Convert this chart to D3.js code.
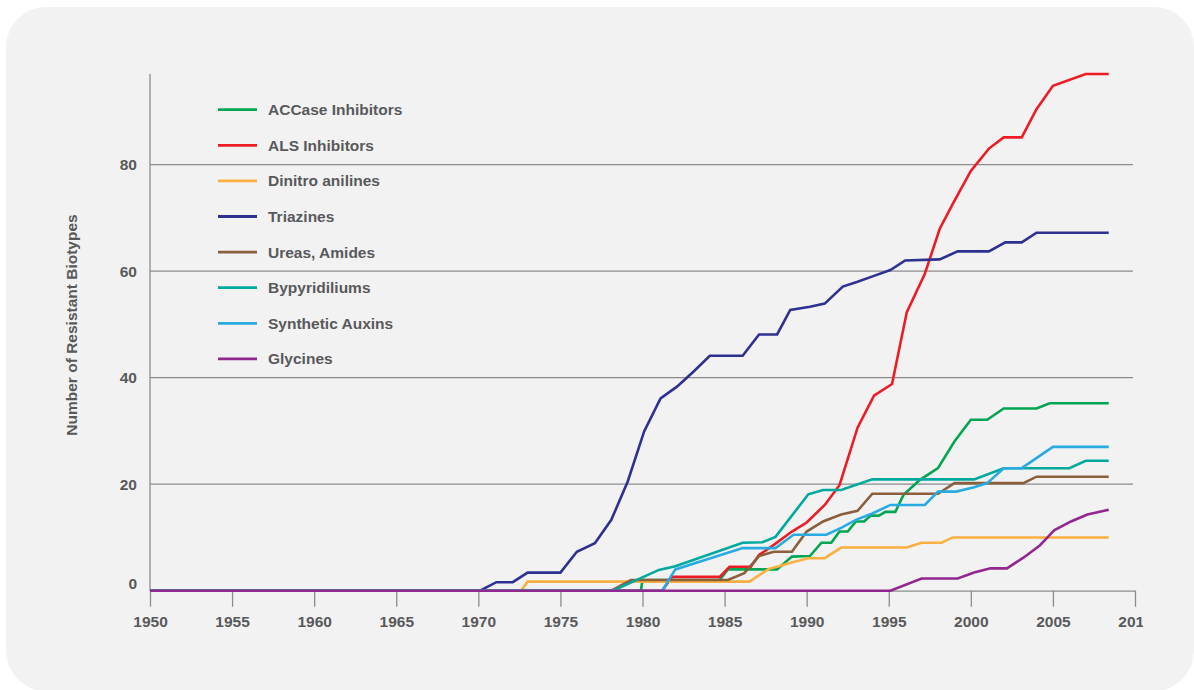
<!DOCTYPE html>
<html>
<head>
<meta charset="utf-8">
<script src="https://cdn.jsdelivr.net/npm/d3@7"></script>
<style>
	body { margin: 0; background: #ffffff; }
	text { font-family: "Liberation Sans", Arial, Helvetica, sans-serif; font-weight: bold; fill: #58595b; }
</style>
</head>
<body>
<div id="chart"></div>
<script>

			//Width and height
			var w = 1194;
			var h = 690;

			//Legend names and colours, in drawing order
			var seriesNames = ["ACCase Inhibitors", "ALS Inhibitors", "Dinitro anilines", "Triazines",
				"Ureas, Amides", "Bypyridiliums", "Synthetic Auxins", "Glycines"];
			var seriesColors = ["#00a651", "#ed1c24", "#fbb040", "#2e3192",
				"#8b5e3c", "#00a99d", "#29abe2", "#92278f"];

			//Break points [year, resistant biotypes]
			var accase = [[1950, 0], [1979.9, 0], [1980.0, 2.0], [1984.7, 2.0], [1985.2, 4.0], [1988.2, 4.0],
				[1989.1, 6.4], [1990.2, 6.5], [1990.9, 9.0], [1991.5, 9.0], [1992.0, 11.1], [1992.5, 11.1],
				[1993.0, 13.0], [1993.5, 13.0], [1993.9, 14.1], [1994.4, 14.1], [1994.8, 14.8], [1995.4, 14.8],
				[1995.9, 18.0], [1996.9, 20.8], [1998.0, 23.0], [1999.0, 28.0], [2000.0, 32.1], [2001.0, 32.1],
				[2002.0, 34.2], [2004.0, 34.2], [2004.8, 35.2], [2008.4, 35.2]];
			var als = [[1950, 0], [1981.2, 0], [1981.8, 2.6], [1984.7, 2.6], [1985.3, 4.5], [1986.6, 4.5],
				[1987.1, 6.7], [1988.0, 8.6], [1989.1, 11.1], [1990.0, 12.8], [1991.1, 16.1], [1992.0, 19.8],
				[1993.1, 30.6], [1994.1, 36.6], [1995.2, 38.8], [1996.1, 52.3], [1997.2, 59.5], [1998.1, 67.9],
				[1998.9, 72.6], [2000.0, 78.8], [2001.1, 83.0], [2002.0, 85.1], [2003.1, 85.1], [2004.0, 90.4],
				[2005.0, 94.8], [2007.0, 97.0], [2008.4, 97.0]];
			var dinitro = [[1950, 0], [1972.6, 0], [1973.0, 1.7], [1986.5, 1.7], [1987.7, 4.1], [1988.3, 4.6],
				[1989.2, 5.4], [1990.1, 6.1], [1991.1, 6.1], [1992.1, 8.1], [1996.1, 8.1], [1997.0, 9.0],
				[1998.2, 9.0], [1998.9, 10.0], [2008.4, 10.0]];
			var triazines = [[1950, 0], [1970.1, 0], [1971.1, 1.6], [1972.1, 1.6], [1973.0, 3.4], [1975.0, 3.4],
				[1976.0, 7.3], [1977.1, 8.9], [1978.1, 13.3], [1979.1, 20.5], [1980.1, 29.9], [1981.1, 36.1],
				[1982.1, 38.3], [1983.1, 41.1], [1984.1, 44.1], [1986.1, 44.1], [1987.1, 48.1], [1988.2, 48.1],
				[1989.0, 52.7], [1990.2, 53.3], [1991.1, 53.9], [1992.2, 57.1], [1993.1, 58.0], [1994.1, 59.1],
				[1995.1, 60.2], [1996.0, 62.0], [1998.1, 62.2], [1999.2, 63.7], [2001.1, 63.7], [2002.1, 65.4],
				[2003.1, 65.4], [2004.0, 67.2], [2008.4, 67.2]];
			var ureas = [[1950, 0], [1978.1, 0], [1979.3, 2.0], [1985.2, 2.0], [1986.2, 3.3], [1987.1, 6.5],
				[1988.0, 7.3], [1989.1, 7.3], [1990.0, 11.1], [1991.0, 13.0], [1992.1, 14.3], [1993.1, 15.0],
				[1994.0, 18.2], [1998.0, 18.2], [1999.0, 20.2], [2003.2, 20.2], [2004.0, 21.4], [2008.4, 21.4]];
			var bypyridiliums = [[1950, 0], [1978.2, 0], [1981.0, 3.9], [1982.0, 4.6], [1986.1, 9.0], [1987.3, 9.1],
				[1988.1, 10.1], [1990.1, 18.1], [1991.0, 18.9], [1992.1, 18.9], [1994.0, 20.9], [2000.2, 20.9],
				[2002.0, 23.0], [2006.0, 23.0], [2007.0, 24.4], [2008.4, 24.4]];
			var auxins = [[1950, 0], [1981.2, 0], [1982.0, 4.0], [1986.1, 8.0], [1988.1, 8.0], [1989.2, 10.5],
				[1991.2, 10.5], [1992.1, 11.8], [1993.0, 13.3], [1994.0, 14.5], [1995.1, 16.1], [1997.2, 16.1],
				[1998.0, 18.6], [1999.1, 18.6], [2000.2, 19.4], [2001.0, 20.2], [2002.0, 23.0], [2003.1, 23.0],
				[2005.0, 27.0], [2008.4, 27.0]];
			var glycines = [[1950, 0], [1995.1, 0], [1997.0, 2.3], [1999.2, 2.3], [2000.2, 3.4], [2001.2, 4.2],
				[2002.2, 4.2], [2003.2, 6.2], [2004.2, 8.5], [2005.1, 11.4], [2006.1, 13.0], [2007.1, 14.3],
				[2008.4, 15.2]];

			var allSeries = [accase, als, dinitro, triazines, ureas, bypyridiliums, auxins, glycines];

			//Tick values
			var xTicks = [1950, 1955, 1960, 1965, 1970, 1975, 1980, 1985, 1990, 1995, 2000, 2005, 2010];
			var yTicks = [0, 20, 40, 60, 80];

			//Scales
			var xScale = d3.scaleLinear()
				.domain([1950, 2010])
				.range([150, 1135]);

			var yScale = d3.scaleLinear()
				.domain([0, 97])
				.range([590.7, 74]);

			var axisColor = "#8c8c8c";

			//Create SVG element
			var svg = d3.select(document.getElementById("chart"))
				.append("svg")
				.attr("width", w)
				.attr("height", h);

			//grey rounded panel
			svg.append("rect")
				.attr("x", 6)
				.attr("y", 7)
				.attr("width", 1188)
				.attr("height", 684)
				.attr("rx", 40)
				.attr("fill", "#f2f2f2");

			//clip for the x labels (last one is cut in the original)
			svg.append("clipPath")
				.attr("id", "xclip")
				.append("rect")
				.attr("x", 0)
				.attr("y", -20)
				.attr("width", 1143)
				.attr("height", 80);

			//horizontal gridlines
			svg.append("g")
				.attr("class", "grid")
				.selectAll("line")
				.data(yTicks.filter(function(d) { return d > 0; }))
				.enter()
				.append("line")
				.attr("x1", xScale(1950))
				.attr("x2", 1133)
				.attr("y1", function(d) { return yScale(d); })
				.attr("y2", function(d) { return yScale(d); })
				.attr("stroke", axisColor)
				.attr("stroke-width", 1.3);

			//y axis
			var yAxis = d3.axisLeft(yScale)
				.tickValues(yTicks)
				.tickSize(0)
				.tickPadding(13);

			var gy = svg.append("g")
				.attr("class", "y axis")
				.attr("transform", "translate(" + xScale(1950) + ",0)")
				.call(yAxis);
			gy.select(".domain").remove();
			gy.selectAll("text")
				.style("font-size", "15.5px")
				.style("font-family", null)
				.attr("fill", null)
				.attr("y", function(d) { return d === 0 ? -7 : 0; });

			svg.append("line")
				.attr("x1", xScale(1950))
				.attr("x2", xScale(1950))
				.attr("y1", yScale(97))
				.attr("y2", yScale(0))
				.attr("stroke", axisColor)
				.attr("stroke-width", 1.3);

			//x axis
			var xAxis = d3.axisBottom(xScale)
				.tickValues(xTicks)
				.tickFormat(d3.format("d"))
				.tickSizeInner(16)
				.tickSizeOuter(0)
				.tickPadding(9);

			var gx = svg.append("g")
				.attr("class", "x axis")
				.attr("transform", "translate(0," + yScale(0) + ")")
				.attr("clip-path", "url(#xclip)")
				.call(xAxis);
			gx.selectAll("path, line")
				.attr("stroke", axisColor)
				.attr("stroke-width", 1.3);
			gx.selectAll("text")
				.style("font-size", "15.5px")
				.attr("fill", null);

			//axis title
			svg.append("text")
				.attr("transform", "translate(72,325) rotate(-90)")
				.attr("text-anchor", "middle")
				.attr("dy", "0.35em")
				.style("font-size", "15.5px")
				.text("Number of Resistant Biotypes");

			//lines
			var line = d3.line()
				.x(function(d) { return xScale(d[0]); })
				.y(function(d) { return yScale(d[1]); });

			svg.append("g")
				.attr("class", "lines")
				.selectAll("path")
				.data(allSeries)
				.enter()
				.append("path")
				.attr("d", line)
				.attr("fill", "none")
				.attr("stroke", function(d, i) { return seriesColors[i]; })
				.attr("stroke-width", 2.6);

			//legend
			var legend = svg.append("g")
				.attr("class", "legend")
				.selectAll("g")
				.data(seriesNames)
				.enter()
				.append("g")
				.attr("transform", function(d, i) {
					return "translate(218," + (109.7 + i * 35.6) + ")";
				});

			legend.append("line")
				.attr("x1", 0)
				.attr("x2", 39)
				.attr("stroke", function(d, i) { return seriesColors[i]; })
				.attr("stroke-width", 2.8);

			legend.append("text")
				.attr("x", 50)
				.attr("dy", "0.35em")
				.style("font-size", "15.5px")
				.text(function(d) { return d; });

</script>
</body>
</html>
